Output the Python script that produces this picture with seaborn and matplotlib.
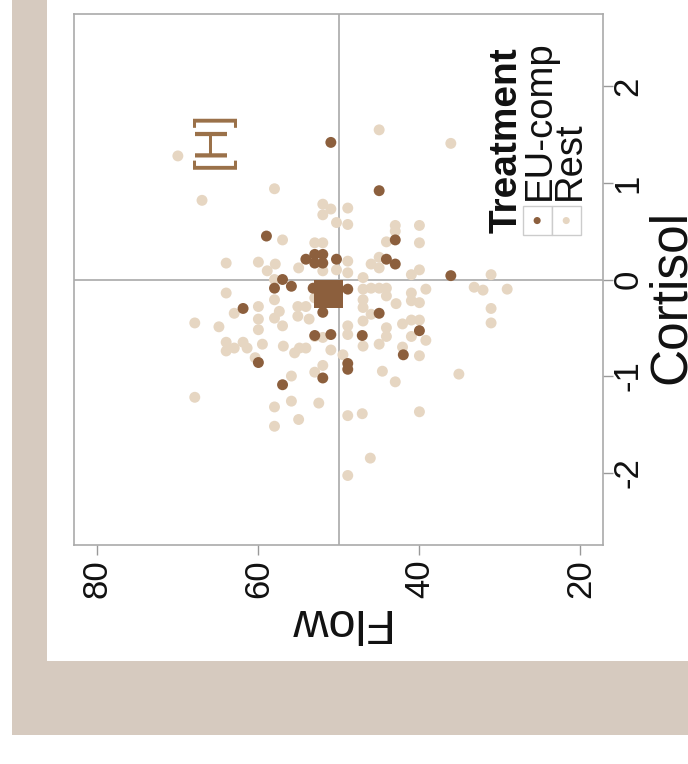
import numpy as np
import pandas as pd
import matplotlib
matplotlib.use("Agg")
import matplotlib.pyplot as plt
from matplotlib.patches import Rectangle
import seaborn as sns

rest_flow = [70.0, 58.0, 67.0, 52.0, 51.0, 52.0, 50.3, 57.0, 53.0, 52.0,
             64.0, 60.0, 57.9, 58.9, 55.0, 52.0, 50.3, 58.0, 45.0, 36.1,
             48.9, 48.9, 43.0, 43.0, 40.0, 44.1, 40.0, 45.0, 46.0, 45.0,
             48.9, 48.9, 47.0, 41.0, 40.0, 31.1, 64.0, 58.0, 63.0, 60.0,
             60.0, 60.0, 67.9, 64.9, 57.4, 58.0, 57.0, 55.1, 54.1, 55.1,
             53.7, 53.0, 52.8, 64.0, 64.0, 63.0, 61.9, 61.4, 59.5, 56.9,
             55.5, 54.9, 54.1, 53.0, 52.0, 51.0, 60.4, 55.9, 53.0, 52.0,
             67.9, 58.0, 55.9, 52.5, 55.0, 58.0, 47.0, 46.0, 45.0, 44.1,
             44.1, 47.0, 47.0, 46.0, 42.9, 41.0, 40.0, 41.0, 39.2, 47.0,
             48.9, 48.9, 47.0, 45.0, 44.1, 44.1, 42.1, 41.0, 40.0, 41.0,
             39.2, 42.1, 40.0, 44.6, 43.0, 35.1, 33.2, 32.1, 29.1, 31.1,
             31.1, 49.5, 48.9, 47.1, 40.0, 46.1, 48.9]
rest_cort = [1.28, 0.94, 0.82, 0.78, 0.73, 0.67, 0.59, 0.41, 0.38, 0.38,
             0.17, 0.18, 0.16, 0.09, 0.12, 0.09, 0.10, 0.00, 1.55, 1.41,
             0.74, 0.57, 0.56, 0.50, 0.56, 0.39, 0.38, 0.23, 0.16, 0.12,
             0.19, 0.07, 0.02, 0.05, 0.10, 0.05, -0.14, -0.21, -0.35, -0.28,
             -0.41, -0.52, -0.45, -0.49, -0.33, -0.40, -0.48, -0.28, -0.28, -0.38,
             -0.41, -0.19, -0.09, -0.65, -0.74, -0.71, -0.65, -0.71, -0.67, -0.69,
             -0.76, -0.71, -0.71, -0.59, -0.60, -0.73, -0.81, -1.00, -0.96, -0.89,
             -1.22, -1.32, -1.26, -1.28, -1.45, -1.52, -0.10, -0.09, -0.09, -0.09,
             -0.17, -0.21, -0.29, -0.36, -0.25, -0.14, -0.24, -0.22, -0.10, -0.43,
             -0.48, -0.57, -0.69, -0.67, -0.50, -0.59, -0.46, -0.42, -0.42, -0.59,
             -0.63, -0.70, -0.79, -0.95, -1.06, -0.98, -0.08, -0.11, -0.10, -0.30,
             -0.45, -0.78, -1.41, -1.39, -1.37, -1.85, -2.03]

eu_flow = [51.0, 59.0, 54.1, 53.0, 52.0, 53.0, 52.0, 50.3, 57.0, 55.9,
           58.0, 45.0, 43.0, 44.1, 43.0, 36.1, 61.9, 52.0, 53.0, 51.0,
           60.0, 57.0, 52.0, 48.9, 45.0, 47.1, 40.0, 42.0, 48.9, 48.9, 53.2]
eu_cort = [1.42, 0.45, 0.21, 0.26, 0.26, 0.17, 0.17, 0.21, 0.00, -0.07,
           -0.09, 0.92, 0.41, 0.21, 0.16, 0.04, -0.30, -0.34, -0.58, -0.57,
           -0.86, -1.09, -1.02, -0.10, -0.35, -0.58, -0.53, -0.78, -0.87, -0.93, -0.09]

# EU-comp centre marker
eu_centre_flow = [51.3]
eu_centre_cort = [-0.15]

groups = ["EU-comp", "Rest"]
colors = {"EU-comp": "#8c5f3d", "Rest": "#e6d6c2"}
flow_ticks = [80, 60, 40, 20]
cort_ticks = [-2, -1, 0, 1, 2]

df = pd.concat([
    pd.DataFrame({"Flow": rest_flow, "Cortisol": rest_cort, "Treatment": "Rest"}),
    pd.DataFrame({"Flow": eu_flow, "Cortisol": eu_cort, "Treatment": "EU-comp"}),
], ignore_index=True)

sns.set_style("white")
plt.rcParams["font.family"] = ["Liberation Sans", "DejaVu Sans"]
plt.rcParams["axes.unicode_minus"] = False

fig = plt.figure(figsize=(6.88, 7.64), dpi=100)
# beige frame behind the panel
fig.patches.append(Rectangle((12 / 688, 29 / 764), 1, 1, transform=fig.transFigure,
                             facecolor="#d6cabf", edgecolor="none", zorder=-2))
fig.patches.append(Rectangle((47 / 688, 103 / 764), 1, 1, transform=fig.transFigure,
                             facecolor="white", edgecolor="none", zorder=-1))

ax = fig.add_axes([74 / 688, 219 / 764, 529 / 688, 531 / 764])
ax.axvline(50, color="#b0b0b0", lw=1.3, zorder=0)
ax.axhline(0, color="#b0b0b0", lw=1.3, zorder=0)

sns.scatterplot(data=df, x="Flow", y="Cortisol", hue="Treatment", palette=colors,
                s=62, edgecolor="none", linewidth=0, legend=False, ax=ax, zorder=2)
sns.scatterplot(x=eu_centre_flow, y=eu_centre_cort, marker="s", color=colors["EU-comp"],
                s=420, edgecolor="none", linewidth=0, legend=False, ax=ax, zorder=3)

ax.set_xlim(82.9, 17.2)
ax.set_ylim(-2.75, 2.75)
ax.set_xticks(flow_ticks)
ax.set_yticks(cort_ticks)
ax.yaxis.tick_right()
ax.tick_params(axis="both", which="both", length=7, width=1, color="#999999",
               labelsize=25, labelcolor="#111111")
ax.tick_params(axis="x", labelrotation=90, bottom=True, pad=3)
ax.tick_params(axis="y", labelrotation=90, right=True, left=False, pad=-1)
for lab in ax.get_yticklabels():
    lab.set_verticalalignment("center")
for sp in ax.spines.values():
    sp.set_color("#aaaaaa")
    sp.set_linewidth(1.2)

ax.set_xlabel("Flow", fontsize=35, rotation=180, color="#111111")
ax.xaxis.label.set_rotation_mode("anchor")
ax.xaxis.label.set_horizontalalignment("center")
ax.xaxis.label.set_verticalalignment("baseline")
ax.xaxis.set_label_coords(0.497, -0.1205)

ax.yaxis.set_label_position("right")
ax.set_ylabel("Cortisol", fontsize=37, rotation=90, color="#111111")
ax.yaxis.label.set_rotation_mode("anchor")
ax.yaxis.label.set_horizontalalignment("center")
ax.yaxis.label.set_verticalalignment("baseline")
ax.yaxis.set_label_coords(1.155, 0.4676)

# panel tag
ax.text(64.2, 1.14, "[H]", rotation=90, rotation_mode="anchor", ha="left", va="baseline",
        fontsize=33, color="#9a7048")

# legend, drawn rotated like the rest of the panel
ax.text(0.837, 0.5876, "Treatment", transform=ax.transAxes, rotation=90,
        rotation_mode="anchor", ha="left", va="baseline", fontsize=28,
        fontweight="bold", color="#111111")
key_x = [0.848, 0.903]
text_x = [0.900, 0.9565]
for g, kx, tx in zip(groups, key_x, text_x):
    ax.add_patch(Rectangle((kx, 0.584), 0.055, 0.054, transform=ax.transAxes,
                           facecolor="white", edgecolor="#cccccc", lw=1, clip_on=False, zorder=4))
    ax.scatter([kx + 0.0275], [0.611], transform=ax.transAxes, s=26, color=colors[g],
               edgecolor="none", clip_on=False, zorder=5)
    ax.text(tx, 0.650, g, transform=ax.transAxes, rotation=90, rotation_mode="anchor",
            ha="left", va="baseline", fontsize=27.5, color="#111111")

fig.savefig("out.png", dpi=100)
